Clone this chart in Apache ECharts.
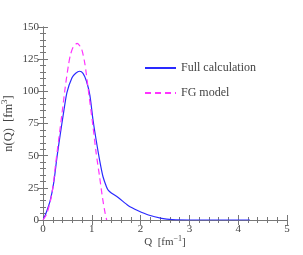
<!DOCTYPE html>
<html><head><meta charset="utf-8">
<script src="https://cdn.jsdelivr.net/npm/echarts@6/dist/echarts.min.js"></script>
<style>html,body{margin:0;padding:0;background:#fff}#c{width:303px;height:255px}</style>
</head><body><div id="c"></div>
<script>
const qFull = [0.01,0.048,0.15,0.22,0.287,0.355,0.42,0.49,0.594,0.67,0.75,0.82,0.89,0.96,1.025,1.09,1.16,1.23,1.30,1.34,1.40,1.54,1.75,1.95,2.16,2.43,2.65,3.0,3.5,4.24];
const nFull = [1.3,3.9,15.5,29,49,67,83,99,110.5,114,115.6,114,108,97,77.7,62,46.6,33.6,25.9,23,21,17.5,11.1,7.2,3.9,1.3,0.3,0,0,0];
const qFG = [0,0.08,0.184,0.252,0.32,0.39,0.457,0.52,0.56,0.62,0.70,0.79,0.86,0.92,1.025,1.09,1.16,1.22,1.27,1.305];
const nFG = [0,5,20.7,41.4,62,83,103.6,120,128,134.5,137.3,133,121,103.6,72.5,51.8,33.6,17,6,0];
const xTicks = [0,1,2,3,4,5];
const yTicks = [0,25,50,75,100,125,150];

const serif = 'Liberation Serif';
const axisCol = '#777';
const txtCol = '#444';
function axisBase(show){
  return {
    type:'value', splitLine:{show:false},
    axisLine:{show:true,lineStyle:{color:axisCol,width:1}},
    axisTick:{show:true,inside:true,length:5,lineStyle:{color:axisCol}},
    minorTick:{show:true,splitNumber:5,length:3,lineStyle:{color:axisCol}},
    axisLabel:{show:show,color:txtCol,fontFamily:serif,fontSize:11,margin:4}
  };
}
const x1 = Object.assign(axisBase(true),{min:xTicks[0],max:xTicks[xTicks.length-1],interval:1,position:'bottom',
  name:'Q  [fm{sup|−1}]',nameLocation:'middle',nameGap:15,nameMoveOverlap:false,
  nameTextStyle:{color:txtCol,fontFamily:serif,fontSize:11,rich:{sup:{fontSize:8,fontFamily:serif,color:txtCol,padding:[0,0,7,0]}}}});
const x2 = Object.assign(axisBase(false),{min:0,max:5,interval:1,position:'top'});
const y1 = Object.assign(axisBase(true),{min:yTicks[0],max:yTicks[yTicks.length-1],interval:25,position:'left',
  name:'n(Q)  [fm{sup|3}]',nameLocation:'middle',nameGap:26,nameMoveOverlap:false,
  nameTextStyle:{color:txtCol,fontFamily:serif,fontSize:12.5,rich:{sup:{fontSize:9,fontFamily:serif,color:txtCol,padding:[0,0,8,0]}}}});
const y2 = Object.assign(axisBase(false),{min:0,max:150,interval:25,position:'right'});

const chart = echarts.init(document.getElementById('c'),null,{renderer:'canvas'});
chart.setOption({
  animation:false,
  grid:{left:43,right:16,top:27,bottom:35,containLabel:false,outerBoundsMode:'none'},
  xAxis:[x1,x2],
  yAxis:[y1,y2],
  legend:{orient:'vertical',left:139,top:57,itemWidth:31,itemHeight:14,itemGap:13,
    itemStyle:{opacity:0},
    textStyle:{fontFamily:serif,fontSize:12,color:txtCol},
    data:['Full calculation','FG model']},
  series:[
    {name:'Full calculation',type:'line',xAxisIndex:0,yAxisIndex:0,symbol:'none',smooth:0.25,
     lineStyle:{color:'#2a2aff',width:1.2},itemStyle:{color:'#2a2aff'},
     data:qFull.map((q,i)=>[q,nFull[i]])},
    {name:'FG model',type:'line',xAxisIndex:0,yAxisIndex:0,symbol:'none',smooth:0.25,
     lineStyle:{color:'#ff33ff',width:1.2,type:[6,4]},itemStyle:{color:'#ff33ff'},
     data:qFG.map((q,i)=>[q,nFG[i]])}
  ]
});
</script></body></html>
